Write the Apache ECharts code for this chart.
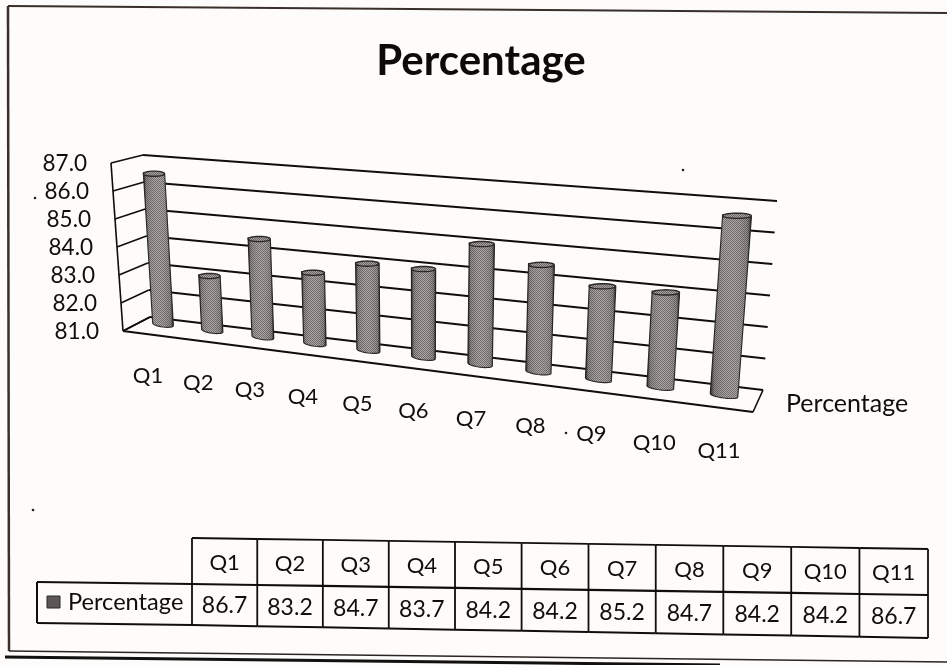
<!DOCTYPE html>
<html>
<head>
<meta charset="utf-8">
<style>html,body{margin:0;padding:0;background:#fdfcfa}#c{width:947px;height:665px}</style>
<script src="https://cdn.jsdelivr.net/npm/echarts@6/dist/echarts.min.js"></script>
</head>
<body>
<div id="c"></div>
<script>
const chartTitle = 'Percentage';
const seriesName = 'Percentage';
const categories = ['Q1','Q2','Q3','Q4','Q5','Q6','Q7','Q8','Q9','Q10','Q11'];
const percentage = [86.7,83.2,84.7,83.7,84.2,84.2,85.2,84.7,84.2,84.2,86.7];
const yTicks = [81,82,83,84,85,86,87];

const FONT = 'Lato, "Open Sans", sans-serif';
const INK = '#100e0d';
const G = {left:100, top:160, width:600, height:180};
const lerp = (a,b,t)=>a+(b-a)*t;
const lerpP = (p,q,t)=>[lerp(p[0],q[0],t),lerp(p[1],q[1],t)];

// perspective plane through the cylinder axes (unit square -> screen)
function makeHomography(p00,p10,p11,p01){
  const dx1=p10[0]-p11[0],dx2=p01[0]-p11[0],sx=p00[0]-p10[0]+p11[0]-p01[0];
  const dy1=p10[1]-p11[1],dy2=p01[1]-p11[1],sy=p00[1]-p10[1]+p11[1]-p01[1];
  const det=dx1*dy2-dx2*dy1;
  const g=(sx*dy2-dx2*sy)/det,h=(dx1*sy-sx*dy1)/det;
  const a=p10[0]-p00[0]+g*p10[0],b=p01[0]-p00[0]+h*p01[0],c=p00[0];
  const d=p10[1]-p00[1]+g*p10[1],e=p01[1]-p00[1]+h*p01[1],f=p00[1];
  return (s,t)=>{s=s+0.036*s*(1-s);const w=g*s+h*t+1;return [(a*s+b*t+c)/w,(d*s+e*t+f)/w];};
}
const midPlane = makeHomography([163,327],[724,398],[737.7,203],[153.5,162.6]);
const uvOf = pt=>[((pt[0]-G.left)/G.width*categories.length-0.5)/(categories.length-1),(G.top+G.height-pt[1])/G.height];

// stipple pattern like the halftoned print
function stipple(){
  const c=document.createElement('canvas');c.width=c.height=4;
  const x=c.getContext('2d');
  x.fillStyle='#a8a3a1';x.fillRect(0,0,4,4);
  x.fillStyle='#6b6664';
  [[0,0],[2,0],[1,1],[3,1],[0,2],[2,2],[1,3],[3,3]].forEach(p=>x.fillRect(p[0],p[1],1,1));
  return c;
}
const stip = stipple();

const lineStyle=(w)=>({stroke:INK,lineWidth:w||2,fill:null});
const seg=(p,q,w)=>({type:'line',shape:{x1:p[0],y1:p[1],x2:q[0],y2:q[1]},style:lineStyle(w)});
const txt=(s,x,y,size,align,extra)=>({type:'text',style:Object.assign({text:s,x:x,y:y,fill:INK,font:size+'px '+FONT,textAlign:align||'center',textVerticalAlign:'middle'},extra||{})});

// ---- walls: one item per y tick
function renderWall(params,api){
  const t=uvOf(api.coord([0,api.value(0)]))[1];
  const frontL=lerpP([123,331],[111,163],t);
  const backL=lerpP([150,317],[143,155],t);
  const backR=lerpP([763,390],[777,201],t);
  const kids=[seg(frontL,backL,1.6),seg(backL,backR,2),
    txt(api.value(0).toFixed(1),frontL[0]-24,frontL[1]+1,22.5,'right')];
  if(params.dataIndex===0){
    kids.push(seg([123,331],[111,163],1.6),seg([123,331],[753,412],2.2),seg([753,412],[763,390],1.6),seg([123,331],[150,317],1.6));
  }
  return {type:'group',children:kids};
}

// ---- cylinders
function renderBar(params,api){
  const i=api.value(0),v=api.value(1);
  const base=uvOf(api.coord([i,yTicks[0]])),top=uvOf(api.coord([i,v]));
  const s=base[0],ds=0.0212;
  const t0=midPlane(s,top[1]);
  const bL=midPlane(s-ds,base[1]),bR=midPlane(s+ds,base[1]);
  const tL=midPlane(s-ds,top[1]),tR=midPlane(s+ds,top[1]);
  const ry=2.6;
  const pts=[];
  const N=14;
  pts.push([tL[0],tL[1]+ry],[tR[0],tR[1]+ry]);
  for(let k=0;k<=N;k++){const a=Math.PI*k/N;const c=Math.cos(a),n=Math.sin(a);
    pts.push([lerp(bR[0],bL[0],(1-c)/2),lerp(bR[1],bL[1],(1-c)/2)-ry+ry*n]);}
  const cap=[];
  for(let k=0;k<=28;k++){const a=2*Math.PI*k/28;
    cap.push([t0[0]+(tR[0]-tL[0])/2*Math.cos(a),t0[1]+ry+ry*Math.sin(a)]);}
  const label=midPlane(s,0);
  const shade={type:'linear',x:0,y:0,x2:1,y2:0,colorStops:[
    {offset:0,color:'rgba(30,28,27,.8)'},{offset:.1,color:'rgba(40,38,36,.18)'},
    {offset:.5,color:'rgba(255,255,255,.05)'},{offset:.9,color:'rgba(40,38,36,.18)'},{offset:1,color:'rgba(30,28,27,.8)'}]};
  return {type:'group',children:[
    {type:'polygon',shape:{points:pts},style:{fill:{image:stip,repeat:'repeat'},stroke:'#2a2725',lineWidth:1.2}},
    {type:'polygon',shape:{points:pts},style:{fill:shade}},
    {type:'polygon',shape:{points:cap},style:{fill:{image:stip,repeat:'repeat'},stroke:'#2a2725',lineWidth:1.4}},
    txt(categories[i],label[0]-15+i,label[1]+49+0.4*i,22,'center')
  ]};
}

// ---- data table: one item per category column
const TBL={x0:192,x1:928,top:[538,549],mid:[584,595],bot:[625,638]};
function warpX(px){const u=(px-TBL.x0)/(TBL.x1-TBL.x0);return px-20*u*(1-u);}
function edgeY(row,px){const u=(px-TBL.x0)/(TBL.x1-TBL.x0);return lerp(row[0],row[1],u);}
function renderTable(params,api){
  const i=api.value(0);
  const c=api.coord([i,0]),w=api.size([1,0])[0];
  const a=warpX(c[0]-w/2),b=warpX(c[0]+w/2),m=warpX(c[0]);
  const P=(x,row)=>[x,edgeY(row,x)];
  const kids=[seg(P(a,TBL.top),P(b,TBL.top),1.8),seg(P(a,TBL.mid),P(b,TBL.mid),2.2),seg(P(a,TBL.bot),P(b,TBL.bot),2),
    seg(P(b,TBL.top),P(b,TBL.bot),1.8),
    txt(categories[i],m,(edgeY(TBL.top,m)+edgeY(TBL.mid,m))/2+1,22,'center'),
    txt(percentage[i].toFixed(1),m,(edgeY(TBL.mid,m)+edgeY(TBL.bot,m))/2+1,23,'center')];
  if(i===0){
    const L=37;
    kids.push(seg(P(a,TBL.top),P(a,TBL.bot),1.8),
      seg([L,582],[a,edgeY(TBL.mid,a)],2.2),seg([L,623],[a,edgeY(TBL.bot,a)],2),seg([L,582],[L,623],2),
      {type:'rect',shape:{x:47,y:596,width:13,height:12},style:{fill:'#5d5856',stroke:'#2a2725',lineWidth:1}},
      txt(seriesName,68,602,23.6,'left'));
  }
  return {type:'group',children:kids};
}

const speck=(x,y)=>({type:'circle',silent:true,shape:{cx:x,cy:y,r:1.3},style:{fill:'#222'}});
const chart=echarts.init(document.getElementById('c'),null,{renderer:'canvas'});
chart.setOption({
  backgroundColor:'#fdfcfa',
  animation:false,
  title:{text:chartTitle,left:476,top:35,textAlign:'center',textStyle:{fontFamily:FONT,fontWeight:'bold',fontSize:42,color:'#0d0b0a'}},
  grid:[
    {left:G.left,top:G.top,width:G.width,height:G.height},
    {left:TBL.x0,top:538,width:TBL.x1-TBL.x0,height:87}
  ],
  xAxis:[
    {type:'category',gridIndex:0,data:categories,show:false},
    {type:'category',gridIndex:1,data:categories,show:false}
  ],
  yAxis:[
    {type:'value',gridIndex:0,min:81,max:87,interval:1,show:false},
    {type:'value',gridIndex:1,min:0,max:1,show:false}
  ],
  graphic:[
    {type:'line',silent:true,shape:{x1:8,y1:6,x2:947,y2:13},style:{stroke:'#3a2f2a',lineWidth:2}},
    {type:'line',silent:true,shape:{x1:8,y1:6,x2:9,y2:651},style:{stroke:'#3a2f2a',lineWidth:2.5}},
    {type:'line',silent:true,shape:{x1:9,y1:651,x2:947,y2:662},style:{stroke:'#2a2522',lineWidth:1.5}},
    {type:'line',silent:true,shape:{x1:5,y1:657,x2:720,y2:665},style:{stroke:'#111',lineWidth:3}},
    {type:'text',silent:true,style:{text:seriesName,x:786,y:404,fill:INK,font:'25px '+FONT,textAlign:'left',textVerticalAlign:'middle'}},
    speck(35,198),speck(33,510),speck(683,170),speck(566,433)
  ],
  series:[
    {type:'custom',name:'grid',coordinateSystem:'cartesian2d',xAxisIndex:0,yAxisIndex:0,silent:true,z:1,
      data:yTicks.map(v=>[v]),encode:{y:0},renderItem:renderWall},
    {type:'custom',name:seriesName,coordinateSystem:'cartesian2d',xAxisIndex:0,yAxisIndex:0,silent:true,z:2,
      data:percentage.map((v,i)=>[i,v]),encode:{x:0,y:1},renderItem:renderBar},
    {type:'custom',name:'table',coordinateSystem:'cartesian2d',xAxisIndex:1,yAxisIndex:1,silent:true,z:3,
      data:categories.map((c,i)=>[i]),encode:{x:0},renderItem:renderTable}
  ]
});
</script>
</body>
</html>
